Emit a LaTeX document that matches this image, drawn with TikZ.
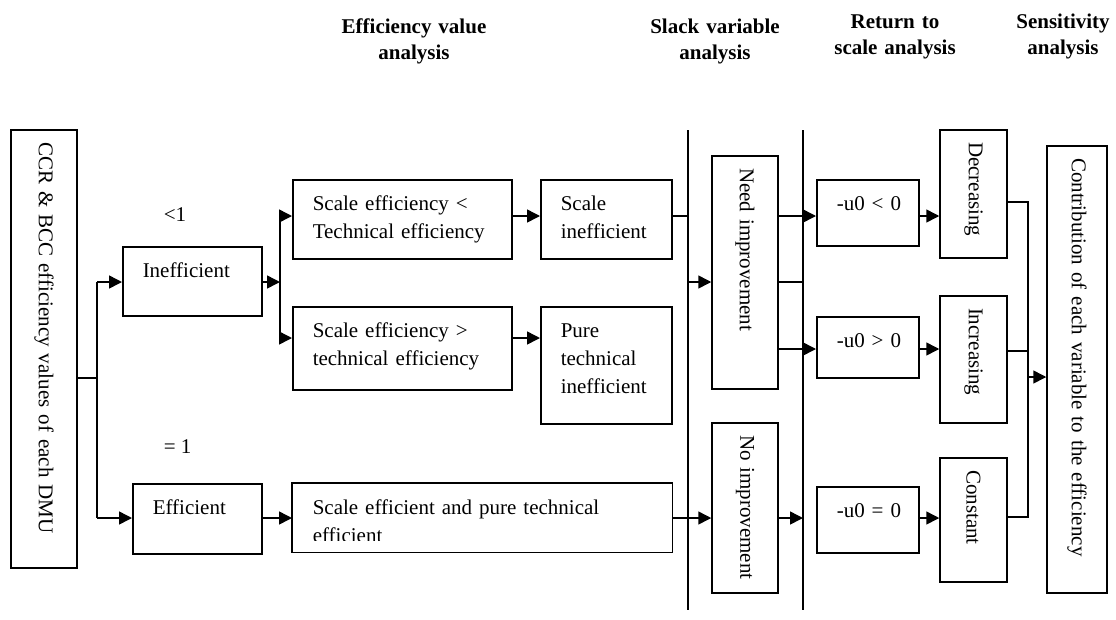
\documentclass[tikz,border=0pt]{standalone}
\usepackage{fontspec}
\setmainfont{Liberation Serif}
\usetikzlibrary{arrows.meta}

\begin{document}
\begin{tikzpicture}[x=1pt,y=-1pt,line width=1.5pt]
	\tikzstyle{Box} = [draw, anchor=north west, align=left, inner xsep=20pt, inner ysep=0pt, text height=31pt, font=\fontsize{21}{28}\selectfont]
	\tikzstyle{Side} = [draw, rotate=-90, align=left, inner xsep=12pt, inner ysep=0pt, font=\fontsize{21}{28}\selectfont]
	\tikzstyle{Head} = [align=center, text width=200pt, anchor=base, inner sep=0pt, font=\fontsize{21}{26}\selectfont\bfseries]
	\tikzstyle{Arr} = [-{Triangle[length=13pt,width=13pt]}]
	\useasboundingbox (0,0) rectangle (1116,619);
	% column heads
	\node (hEff) at (414,33) [Head] {Efficiency value\\analysis};
	\node (hSlack) at (715,33) [Head] {Slack variable\\analysis};
	\node (hRts) at (895,28) [Head] {Return to\\scale analysis};
	\node (hSens) at (1063,28) [Head] {Sensitivity\\analysis};
	% boxes
	\node (ccr) at (44,349) [Side, text width=414pt, minimum height=66pt] {CCR \& BCC efficiency values of each DMU};
	\node (lt1) at (163,221) [anchor=base west, inner sep=0pt, font=\fontsize{21}{28}\selectfont] {<1};
	\node (eq1) at (163,453) [anchor=base west, inner sep=0pt, font=\fontsize{21}{28}\selectfont] {= 1};
	\node (ineff) at (122,246) [Box, text width=99pt, text depth=38pt] {Inefficient};
	\node (eff) at (132,483) [Box, text width=89pt, text depth=39pt] {Efficient};
	\node (selt) at (292,179) [Box, text width=179pt, text depth=48pt] {Scale efficiency <\\Technical efficiency};
	\node (sineff) at (540,179) [Box, text width=91pt, text depth=48pt] {Scale\\inefficient};
	\node (segt) at (292,306) [Box, text width=179pt, text depth=52pt] {Scale efficiency >\\technical efficiency};
	\node (pti) at (540,306) [Box, text width=91pt, text depth=86pt] {Pure\\technical\\inefficient};
	\begin{scope}
		\clip (292,483) rectangle (671,540);
		\node (sepure) at (292,483) [Box, draw=none, text width=339pt, text depth=37pt] {Scale efficient and pure technical\\efficient};
	\end{scope}
	\draw (sepure.north west) rectangle (sepure.south east);
	\node (need) at (745,272.5) [Side, text width=209pt, minimum height=66pt] {Need improvement};
	\node (noimp) at (745,508) [Side, text width=146pt, minimum height=66pt] {No improvement};
	\node (ult) at (816,179) [Box, text width=62pt, text depth=35pt] {\mbox{-u0 < 0}};
	\node (ugt) at (816,316) [Box, text width=62pt, text depth=30pt] {\mbox{-u0 > 0}};
	\node (ueq) at (816,486) [Box, text width=62pt, text depth=35pt] {\mbox{-u0 = 0}};
	\node (dec) at (973.5,194) [Side, text width=104pt, minimum height=67pt] {Decreasing};
	\node (inc) at (973.5,359.5) [Side, text width=103pt, minimum height=67pt] {Increasing};
	\node (con) at (973.5,520) [Side, text width=100pt, minimum height=67pt] {Constant};
	\node (contrib) at (1077,369.5) [Side, text width=423pt, minimum height=60pt] {Contribution of each variable to the efficiency};
	% joints
	\coordinate (sp) at (97,378);
	\coordinate (bt) at (97,282);
	\coordinate (bb) at (97,518);
	\coordinate (s1) at (280,282);
	\coordinate (s1t) at (280,216);
	\coordinate (s1b) at (280,338);
	\coordinate (v1t) at (688,130);
	\coordinate (v1b) at (688,610);
	\coordinate (v2t) at (803,130);
	\coordinate (v2b) at (803,610);
	\coordinate (yc) at (803,349);
	\coordinate (j1) at (1028,202);
	\coordinate (j2) at (1028,351);
	\coordinate (j3) at (1028,517);
	\coordinate (j4) at (1028,377);
	% connectors
	\draw (ccr.north |- sp) to (sp);
	\draw (bt) to (bb);
	\draw [Arr] (bt) to (ineff.west |- bt);
	\draw [Arr] (bb) to (eff.west |- bb);
	\draw [Arr] (ineff.east |- s1) to (s1);
	\draw (s1t) to (s1b);
	\draw [Arr] (s1t) to (selt.west |- s1t);
	\draw [Arr] (s1b) to (segt.west |- s1b);
	\draw [Arr] (selt.east |- s1t) to (sineff.west |- s1t);
	\draw [Arr] (segt.east |- s1b) to (pti.west |- s1b);
	\draw [Arr] (eff.east |- bb) to (sepure.west |- bb);
	\draw (v1t) to (v1b);
	\draw (v2t) to (v2b);
	\draw (sineff.east |- s1t) to (v1t |- s1t);
	\draw [Arr] (v1t |- s1) to (need.south |- s1);
	\draw [Arr] (sepure.east |- bb) to (noimp.south |- bb);
	\draw [Arr] (need.north |- s1t) to (ult.west |- s1t);
	\draw (need.north |- s1) to (v2t |- s1);
	\draw [Arr] (need.north |- yc) to (ugt.west |- yc);
	\draw [Arr] (noimp.north |- bb) to (v2t |- bb);
	\draw [Arr] (ult.east |- s1t) to (dec.south |- s1t);
	\draw [Arr] (ugt.east |- yc) to (inc.south |- yc);
	\draw [Arr] (ueq.east |- bb) to (con.south |- bb);
	\draw (dec.north |- j1) -- (j1) -- (j3) -- (con.north |- j3);
	\draw (inc.north |- j2) to (j2);
	\draw [Arr] (j4) to (contrib.south |- j4);
\end{tikzpicture}
\end{document}
